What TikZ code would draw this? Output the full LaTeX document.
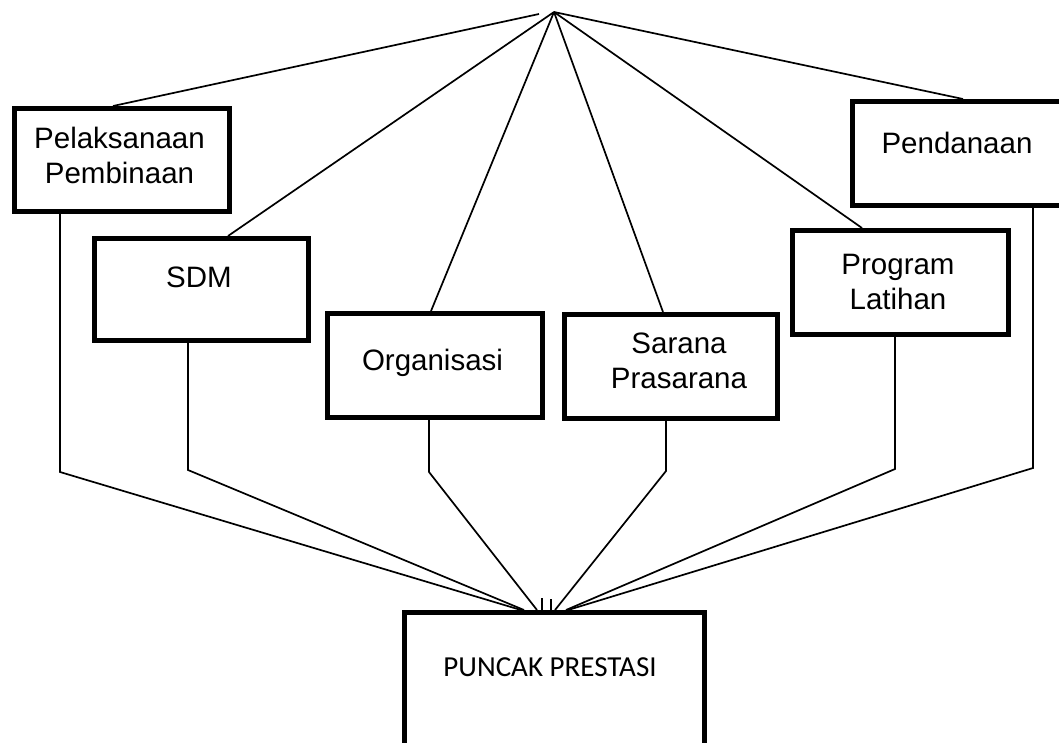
\documentclass[tikz,border=0pt]{standalone}
\usepackage{fontspec}
\setmainfont{Liberation Sans}
\newfontfamily\carl{Carlito}
\usetikzlibrary{calc}
\begin{document}
\begin{tikzpicture}[x=1pt,y=-1pt,
  box/.style={draw,line width=4.5pt,inner sep=0pt,anchor=north west},
  txt/.style={font=\fontsize{29.5}{35}\selectfont,align=center,inner sep=0pt},
  conn/.style={line width=1.7pt,line join=miter}]
\useasboundingbox (0,0) rectangle (1059,742);
\clip (0,0) rectangle (1059,742);
% boxes
\node[box,minimum width=215pt,minimum height=103pt] (pel) at (12,106) {};
\node[box,minimum width=214pt,minimum height=102pt] (sdm) at (92,236) {};
\node[box,minimum width=215pt,minimum height=104pt] (org) at (325,311) {};
\node[box,minimum width=213pt,minimum height=104pt] (sar) at (562,312) {};
\node[box,minimum width=216pt,minimum height=104pt] (pro) at (790,228) {};
\node[box,minimum width=214pt,minimum height=104pt] (pen) at (850,99) {};
\node[box,minimum width=300pt,minimum height=170pt] (pun) at (402,610) {};
% texts
\node[txt] (tpel) at (119.5,155) {Pelaksanaan\\Pembinaan};
\node[txt] (tsdm) at (199,277) {SDM};
\node[txt] (torg) at (432.5,363) {Organisasi};
\node[txt] (tsar) at (679,361) {Sarana\\Prasarana};
\node[txt] (tpro) at (898,282) {Program\\Latihan};
\node[txt] (tpen) at (957,143) {Pendanaan};
\node[font=\carl\fontsize{29}{35}\selectfont,inner sep=0pt] (tpun) at (550,667) {PUNCAK PRESTASI};
% coordinates
\coordinate (apex) at (554,12);
\coordinate (apexL) at (539,14);
\coordinate (b1) at (60,472);
\coordinate (b2) at (188,470);
\coordinate (b3) at (429,472);
\coordinate (b4) at (666,471);
\coordinate (b5) at (895,469);
\coordinate (b6) at (1033,468);
\coordinate (e1) at (521,610);
\coordinate (e2) at (524,610);
\coordinate (e3) at (537,610);
\coordinate (e4) at (555,610);
\coordinate (e5) at (566,610);
\coordinate (e6) at (568,610);
% top connectors
\draw[conn] ([xshift=101pt]pel.north west) -- (apexL);
\draw[conn] ([xshift=136pt]sdm.north west) -- (apex);
\draw[conn] ([xshift=106pt]org.north west) -- (apex);
\draw[conn] ([xshift=101pt]sar.north west) -- (apex);
\draw[conn] ([xshift=72pt]pro.north west) -- (apex);
\draw[conn] ([xshift=113pt]pen.north west) -- (apex);
% bottom connectors
\draw[conn] (pel.south west -| b1) -- (b1) -- (e1);
\draw[conn] (sdm.south west -| b2) -- (b2) -- (e2);
\draw[conn] (org.south west -| b3) -- (b3) -- (e3);
\draw[conn] (sar.south west -| b4) -- (b4) -- (e4);
\draw[conn] (pro.south west -| b5) -- (b5) -- (e5);
\draw[conn] (pen.south west -| b6) -- (b6) -- (e6);
% small tick remnants
\coordinate (k1) at (542,598);
\coordinate (k2) at (551,599);
\draw[conn] (k1) -- (k1 |- pun.north);
\draw[conn] (k2) -- (k2 |- pun.north);
\end{tikzpicture}
\end{document}
